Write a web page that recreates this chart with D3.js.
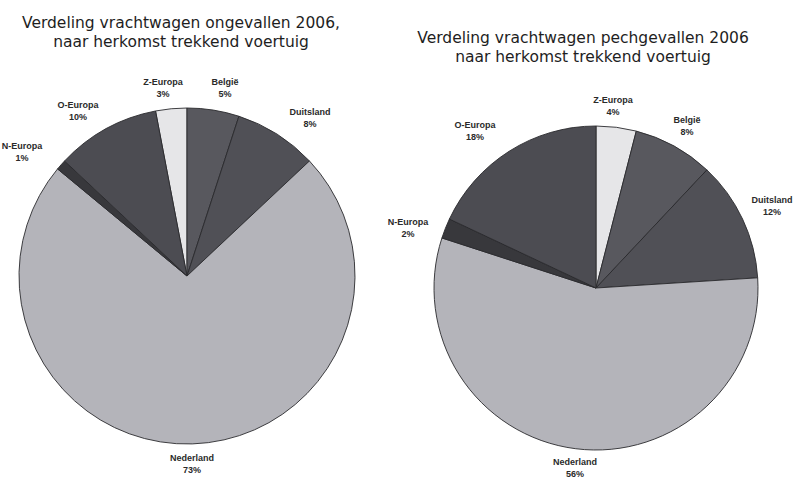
<!DOCTYPE html>
<html>
<head>
<meta charset="utf-8">
<script src="https://cdn.jsdelivr.net/npm/d3@7"></script>
<style>
  body { margin: 0; background: #fff; }
  .title { font-family: "DejaVu Sans", Verdana, sans-serif; font-size: 15.5px; fill: #1e1e1e; }
  .lbl { font-family: "Liberation Sans", Arial, sans-serif; font-size: 9px; fill: #2a2a2a; font-weight: 600; }
</style>
</head>
<body>
<svg width="798" height="479"></svg>
<script>
// categories in clockwise order from the top
const categories = ['Z-Europa', 'België', 'Duitsland', 'Nederland', 'N-Europa', 'O-Europa'];
const ongevallen = [3, 5, 8, 73, 1, 10];
const pechgevallen = [4, 8, 12, 56, 2, 18];
const colors = ['#e6e6e8', '#58585e', '#505056', '#b4b4ba', '#38383c', '#4c4c52'];

const titleLeft = ['Verdeling vrachtwagen ongevallen 2006,', 'naar herkomst trekkend voertuig'];
const titleRight = ['Verdeling vrachtwagen pechgevallen 2006', 'naar herkomst trekkend voertuig'];

// label positions for each pie (relative to page), by category
const labelPosLeft = [[163, 82], [225, 82], [310, 112], [192, 458], [22, 146], [78, 105]];
const labelPosRight = [[613, 100], [687, 120], [772, 200], [575, 462], [408, 222], [475, 125]];

const svg = d3.select('svg');
const color = d3.scaleOrdinal().domain(categories).range(colors);

function drawPie(values, cx, cy, r, startFrac, titles, titleX, titleY, labelPos) {
    const data = categories.map((c, i) => ({ name: c, value: values[i], pos: labelPos[i] }));
    const total = d3.sum(values);
    const start = startFrac / total * 2 * Math.PI;
    const pie = d3.pie().value(d => d.value).sort(null)
        .startAngle(start).endAngle(start + 2 * Math.PI);
    const arc = d3.arc().innerRadius(0).outerRadius(r);

    const g = svg.append('g').attr('transform', `translate(${cx},${cy})`);
    g.selectAll('path')
        .data(pie(data))
        .join('path')
        .attr('d', arc)
        .attr('fill', d => color(d.data.name))
        .attr('stroke', '#2a2a2e')
        .attr('stroke-width', 0.9);

    svg.append('text').attr('class', 'title')
        .attr('text-anchor', 'middle')
        .selectAll('tspan')
        .data(titles)
        .join('tspan')
        .attr('x', titleX)
        .attr('y', (d, i) => titleY + i * 19)
        .text(d => d);

    const lbl = svg.append('g').selectAll('text')
        .data(data)
        .join('text')
        .attr('class', 'lbl')
        .attr('text-anchor', 'middle');
    lbl.append('tspan')
        .attr('x', d => d.pos[0]).attr('y', d => d.pos[1] + 3)
        .text(d => d.name);
    lbl.append('tspan')
        .attr('x', d => d.pos[0]).attr('y', d => d.pos[1] + 15)
        .text(d => d.value + '%');
}

drawPie(ongevallen, 187, 276, 168, -3, titleLeft, 181, 28, labelPosLeft);
drawPie(pechgevallen, 596, 288, 162, 0, titleRight, 583, 43, labelPosRight);
</script>
</body>
</html>
